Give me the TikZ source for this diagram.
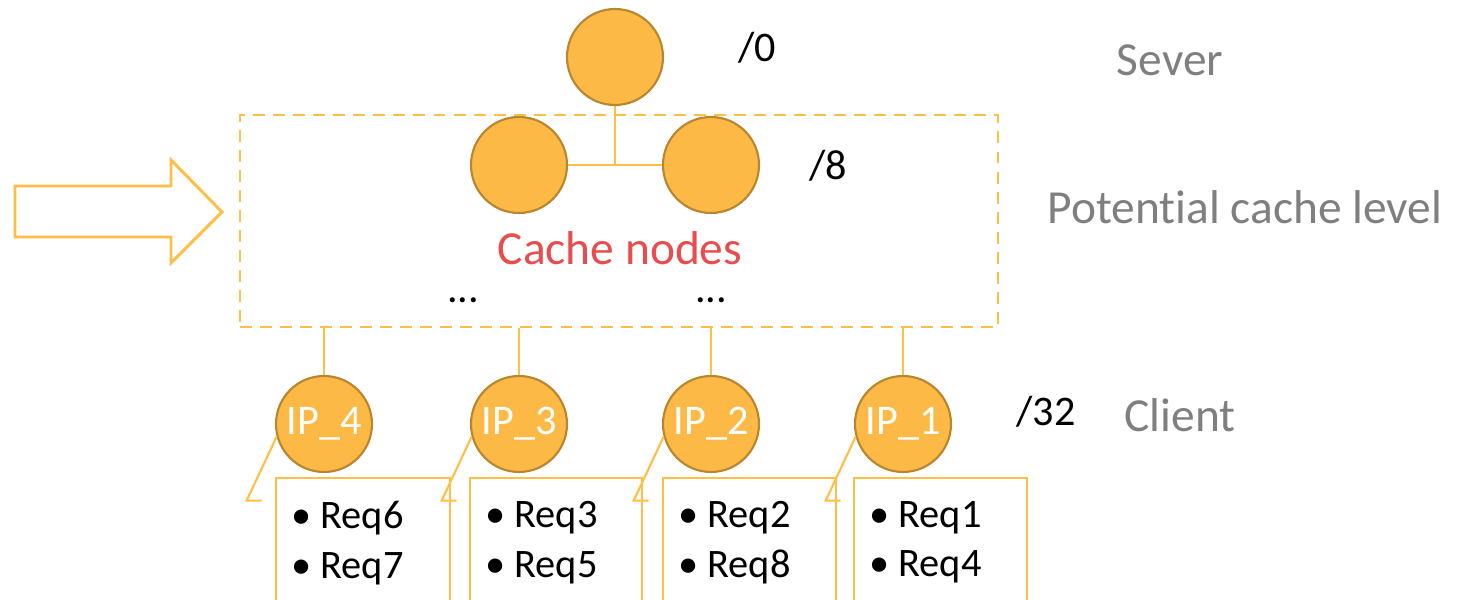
\documentclass[tikz,border=0pt]{standalone}
\usepackage{fontspec}
\setmainfont{Carlito}[Ligatures=NoCommon, RawFeature={-liga;-clig;-dlig}]
\usetikzlibrary{positioning, arrows.meta}

\definecolor{nodefill}{HTML}{FDB946}
\definecolor{nodeedge}{HTML}{B8862E}
\definecolor{linkorange}{HTML}{FFBF47}
\definecolor{labelgray}{HTML}{7F7F7F}
\definecolor{cachered}{HTML}{E84C4C}

\tikzset{
  hostnode/.style={circle, fill=nodefill, draw=nodeedge, line width=0.6pt,
    minimum size=0.96cm, inner sep=0pt, text=white, font=\fontsize{12}{14}\selectfont},
  link/.style={draw=linkorange, line width=0.45pt},
  callout/.style={draw=linkorange, line width=0.6pt},
  levelbox/.style={draw=linkorange, line width=0.8pt, dash pattern=on 3.4pt off 2.3pt,
    minimum width=7.58cm, minimum height=2.12cm, inner sep=0pt},
  masklabel/.style={font=\fontsize{12}{14}\selectfont},
  levelname/.style={text=labelgray, font=\fontsize{13.5}{16}\selectfont},
  reqlist/.style={align=left, anchor=north west, inner sep=0pt,
    font=\fontsize{11.5}{14}\selectfont},
}

\begin{document}
\begin{tikzpicture}
\useasboundingbox (0,0) rectangle (14.71,6.00);

% incoming arrow
\draw [linkorange, line width=0.85pt] (0.15,4.14) -- (1.71,4.14) -- (1.71,4.40) -- (2.22,3.88)
  -- (1.71,3.37) -- (1.71,3.63) -- (0.15,3.63) -- cycle;

% server and cache level
\node[levelbox] (cachelevel) at (6.19,3.79) {};
\node[hostnode] (server) at (6.15,5.43) {};
\node[hostnode] (cacheL) at (5.19,4.35) {};
\node[hostnode] (cacheR) at (7.11,4.35) {};
\coordinate (split) at (6.15,4.35);
\draw [link] (server) -- (split);
\draw [link] (cacheL) -- (cacheR);

\node[text=cachered, inner sep=0pt, font=\fontsize{13.5}{16}\selectfont] (cachetitle) at (6.20,3.52) {Cache nodes};
\node[masklabel, anchor=base, inner sep=0pt] (dotsL) at (4.63,2.97) {...};
\node[masklabel, anchor=base, inner sep=0pt] (dotsR) at (7.11,2.97) {...};

% clients
\node[hostnode] (ip4) at (3.24,1.76) {IP\_4};
\node[hostnode] (ip3) at (5.19,1.76) {IP\_3};
\node[hostnode] (ip2) at (7.11,1.76) {IP\_2};
\node[hostnode] (ip1) at (9.03,1.76) {IP\_1};
\draw [link] (ip4) -- (ip4 |- cachelevel.south);
\draw [link] (ip3) -- (ip3 |- cachelevel.south);
\draw [link] (ip2) -- (ip2 |- cachelevel.south);
\draw [link] (ip1) -- (ip1 |- cachelevel.south);

% request lists
\draw [callout] (ip4.195) -- ++(-0.30,-0.64) -- ++(0.15,0);
\draw [callout] (2.76,0) |- (4.50,1.22) -- (4.50,0);
\node[reqlist] (req4) at (2.905,0.99) {\textbullet\ Req6\\\textbullet\ Req7};

\draw [callout] (ip3.195) -- ++(-0.30,-0.64) -- ++(0.15,0);
\draw [callout] (4.70,0) |- (6.42,1.22) -- (6.42,0);
\node[reqlist] (req3) at (4.845,0.99) {\textbullet\ Req3\\\textbullet\ Req5};

\draw [callout] (ip2.195) -- ++(-0.30,-0.64) -- ++(0.15,0);
\draw [callout] (6.63,0) |- (8.36,1.22) -- (8.36,0);
\node[reqlist] (req2) at (6.775,0.99) {\textbullet\ Req2\\\textbullet\ Req8};

\draw [callout] (ip1.195) -- ++(-0.30,-0.64) -- ++(0.15,0);
\draw [callout] (8.54,0) |- (10.27,1.22) -- (10.27,0);
\node[reqlist] (req1) at (8.685,0.99) {\textbullet\ Req1\\\textbullet\ Req4};

% prefix lengths and level names
\node[masklabel] (pfx0) at (7.57,5.52) {/0};
\node[masklabel] (pfx8) at (8.28,4.34) {/8};
\node[masklabel] (pfx32) at (10.46,1.88) {/32};

\node[levelname] (sever) at (11.70,5.40) {Sever};
\node[levelname] (potential) at (12.45,3.93) {Potent\kern0pt ial cache level};
\node[levelname] (client) at (11.80,1.85) {Client};

\end{tikzpicture}
\end{document}
